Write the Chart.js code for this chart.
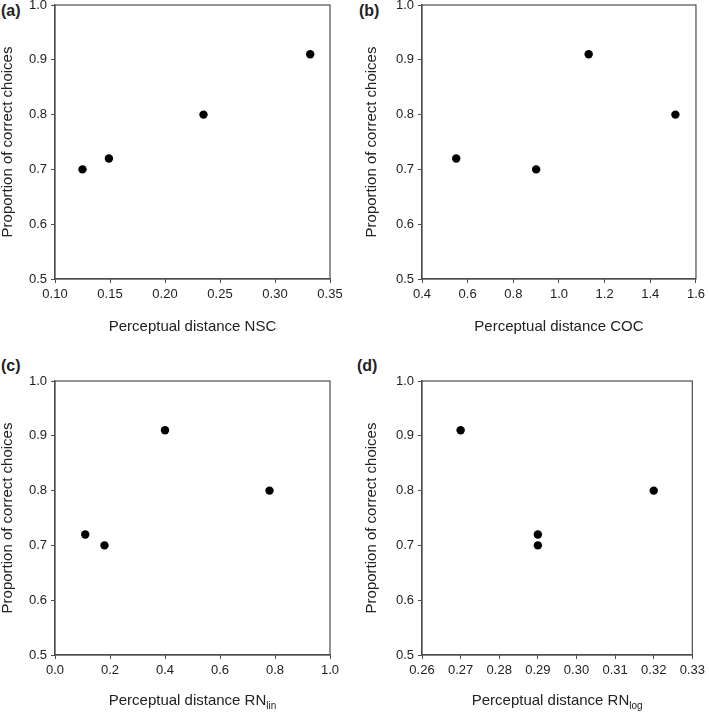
<!DOCTYPE html>
<html>
<head>
<meta charset="utf-8">
<script src="https://cdn.jsdelivr.net/npm/chart.js@4.4.1/dist/chart.umd.min.js"></script>
<style>
  body { margin: 0; background: #fff; width: 709px; height: 714px; position: relative; overflow: hidden;
         font-family: "Liberation Sans", Arial, sans-serif; color: #222; }
  .panel { position: absolute; }
  .tag { position: absolute; font-weight: bold; font-size: 16px; }
  .xtitle { position: absolute; font-size: 15px; white-space: nowrap; transform: translate(-50%, -50%); line-height: 1; }
  .xtitle sub { font-size: 10px; vertical-align: -4px; }
</style>
</head>
<body>

<div class="tag" style="left:1px; top:2px;">(a)</div>
<div class="tag" style="left:359px; top:2px;">(b)</div>
<div class="tag" style="left:1px; top:357px;">(c)</div>
<div class="tag" style="left:357px; top:357px;">(d)</div>

<canvas id="chartA" class="panel" width="354" height="345" style="left:0px; top:0px;"></canvas>
<canvas id="chartB" class="panel" width="345" height="345" style="left:364px; top:0px;"></canvas>
<canvas id="chartC" class="panel" width="354" height="345" style="left:0px; top:376px;"></canvas>
<canvas id="chartD" class="panel" width="345" height="345" style="left:364px; top:376px;"></canvas>

<div id="titleA" class="xtitle">Perceptual distance NSC</div>
<div id="titleB" class="xtitle">Perceptual distance COC</div>
<div id="titleC" class="xtitle">Perceptual distance RN<sub>lin</sub></div>
<div id="titleD" class="xtitle">Perceptual distance RN<sub>log</sub></div>

<script>
// Data
const yCorrect = [0.70, 0.72, 0.80, 0.91];

const nscDistance = [0.125, 0.149, 0.235, 0.332];
const cocDistance = [0.90, 0.55, 1.51, 1.13];
const rnLinDistance = [0.18, 0.11, 0.78, 0.40];
const rnLogDistance = [0.29, 0.29, 0.32, 0.27];

// Axis ranges / tick steps
const yRange = [0.5, 1.0, 0.1];
const nscRange = [0.10, 0.35, 0.05];
const cocRange = [0.4, 1.6, 0.2];
const rnLinRange = [0.0, 1.0, 0.2];
const rnLogRange = [0.26, 0.33, 0.01];

const axisColor = '#4d4d4d';
const textColor = '#222';
const fontFamily = '"Liberation Sans", Arial, sans-serif';

// draws the box around the plot area
const framePlugin = {
    id: 'frame',
    afterDraw(chart) {
        const { ctx, chartArea } = chart;
        ctx.save();
        ctx.strokeStyle = axisColor;
        ctx.lineWidth = 1.2;
        ctx.strokeRect(chartArea.left, chartArea.top, chartArea.right - chartArea.left, chartArea.bottom - chartArea.top);
        ctx.restore();
    }
};

function makePanel(canvasId, titleId, xs, xRange, xDecimals, yAxisWidth, padRight) {
    const canvas = document.getElementById(canvasId);
    const points = xs.map((x, i) => ({ x: x, y: yCorrect[i] }));

    const chart = new Chart(canvas, {
        type: 'scatter',
        data: {
            datasets: [{
                data: points,
                backgroundColor: '#000',
                borderWidth: 0,
                pointRadius: 4.2,
                pointHoverRadius: 4.2
            }]
        },
        options: {
            responsive: false,
            animation: false,
            events: [],
            layout: { padding: { top: 5, right: padRight, left: 0, bottom: 0 } },
            plugins: { legend: { display: false }, tooltip: { enabled: false } },
            scales: {
                x: {
                    type: 'linear',
                    min: xRange[0],
                    max: xRange[1],
                    afterFit(scale) { scale.height = 66; },
                    ticks: {
                        stepSize: xRange[2],
                        color: textColor,
                        font: { family: fontFamily, size: 13 },
                        padding: 4,
                        maxRotation: 0,
                        callback: v => v.toFixed(xDecimals)
                    },
                    grid: { drawOnChartArea: false, drawTicks: true, tickLength: 4, color: axisColor },
                    border: { display: true, color: axisColor, width: 1.2 }
                },
                y: {
                    type: 'linear',
                    min: yRange[0],
                    max: yRange[1],
                    afterFit(scale) {
                        scale.width = yAxisWidth;
                        // let the top label stick out above the plot like in the original
                        scale.paddingTop = 0;
                        scale.paddingBottom = 0;
                    },
                    ticks: {
                        stepSize: yRange[2],
                        color: textColor,
                        font: { family: fontFamily, size: 13 },
                        padding: 4,
                        callback: v => v.toFixed(1)
                    },
                    grid: { drawOnChartArea: false, drawTicks: true, tickLength: 4, color: axisColor },
                    border: { display: true, color: axisColor, width: 1.2 },
                    title: {
                        display: true,
                        text: 'Proportion of correct choices',
                        color: textColor,
                        font: { family: fontFamily, size: 15, lineHeight: 1 },
                        padding: { top: 0, bottom: 0 }
                    }
                }
            }
        },
        plugins: [framePlugin]
    });

    // place the x axis title (HTML, so the subscripts work) under the plot area
    const area = chart.chartArea;
    const title = document.getElementById(titleId);
    title.style.left = (canvas.offsetLeft + (area.left + area.right) / 2) + 'px';
    title.style.top = (canvas.offsetTop + area.bottom + 46) + 'px';
}

makePanel('chartA', 'titleA', nscDistance, nscRange, 2, 55, 24);
makePanel('chartB', 'titleB', cocDistance, cocRange, 1, 58, 12);
makePanel('chartC', 'titleC', rnLinDistance, rnLinRange, 1, 55, 24);
makePanel('chartD', 'titleD', rnLogDistance, rnLogRange, 2, 58, 12);
</script>
</body>
</html>
